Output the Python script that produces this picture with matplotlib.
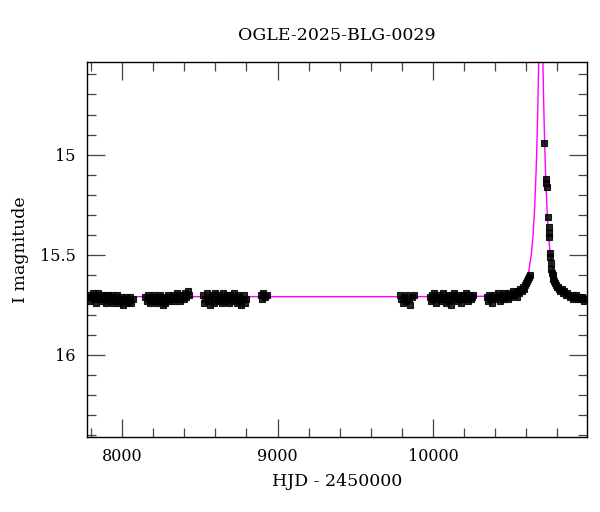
import matplotlib
matplotlib.use("Agg")
import matplotlib.pyplot as plt
from matplotlib.ticker import MultipleLocator

plt.rcParams['font.family'] = ['DejaVu Serif']

# photometry, one list pair per observing season (HJD - 2450000, I mag)
hjd_s1 = [7783, 7790, 7795, 7803, 7810, 7818, 7825, 7832, 7840, 7846, 7853, 7861, 7868,
          7875, 7882, 7890, 7897, 7905, 7912, 7919, 7926, 7934, 7941, 7948, 7956, 7963,
          7970, 7978, 7985, 7993, 8000, 8008, 8015, 8022, 8030, 8037, 8045, 8052, 8060, 8068]
mag_s1 = [15.71, 15.70, 15.73, 15.71, 15.69, 15.72, 15.70, 15.74, 15.71, 15.69, 15.72, 15.70, 15.73,
          15.71, 15.70, 15.72, 15.74, 15.71, 15.70, 15.73, 15.72, 15.70, 15.74, 15.71, 15.72, 15.73,
          15.70, 15.74, 15.72, 15.71, 15.73, 15.75, 15.72, 15.71, 15.74, 15.72, 15.73, 15.71, 15.74, 15.72]

hjd_s2 = [8150, 8158, 8166, 8174, 8182, 8190, 8198, 8206, 8214, 8222, 8230, 8238,
          8246, 8254, 8262, 8270, 8278, 8286, 8294, 8302, 8310, 8318, 8326, 8334,
          8342, 8350, 8358, 8366, 8374, 8382, 8390, 8398, 8406, 8414, 8422, 8430]
mag_s2 = [15.71, 15.73, 15.70, 15.72, 15.74, 15.71, 15.73, 15.70, 15.72, 15.74, 15.71, 15.73,
          15.70, 15.72, 15.75, 15.71, 15.74, 15.72, 15.70, 15.73, 15.71, 15.72, 15.70, 15.73,
          15.71, 15.69, 15.72, 15.70, 15.73, 15.71, 15.70, 15.72, 15.69, 15.71, 15.68, 15.70]

hjd_s3 = [8520, 8528, 8536, 8544, 8552, 8560, 8568, 8576, 8584, 8592, 8600, 8608,
          8616, 8624, 8632, 8640, 8648, 8656, 8664, 8672, 8680, 8688, 8696, 8704,
          8712, 8720, 8728, 8736, 8744, 8752, 8760, 8768, 8776, 8784, 8792, 8800]
mag_s3 = [15.70, 15.74, 15.72, 15.69, 15.73, 15.71, 15.75, 15.70, 15.72, 15.74, 15.69, 15.71,
          15.73, 15.70, 15.72, 15.74, 15.69, 15.71, 15.73, 15.70, 15.72, 15.74, 15.70, 15.71,
          15.73, 15.69, 15.72, 15.74, 15.70, 15.71, 15.73, 15.75, 15.72, 15.70, 15.74, 15.72]

hjd_s4 = [8893, 8900, 8908, 8918, 8930]
mag_s4 = [15.70, 15.72, 15.69, 15.71, 15.70]

hjd_s5 = [9785, 9795, 9805, 9815, 9825, 9835, 9845, 9855, 9865, 9878]
mag_s5 = [15.70, 15.72, 15.74, 15.71, 15.73, 15.70, 15.72, 15.75, 15.71, 15.70]

hjd_s6 = [9978, 9986, 9994, 10002, 10010, 10018, 10026, 10034, 10042, 10050, 10058, 10066,
          10074, 10082, 10090, 10098, 10106, 10114, 10122, 10130, 10138, 10146, 10154, 10162,
          10170, 10178, 10186, 10194, 10202, 10210, 10218, 10226, 10234, 10242, 10250, 10258]
mag_s6 = [15.71, 15.73, 15.70, 15.72, 15.69, 15.74, 15.71, 15.72, 15.70, 15.73, 15.71, 15.69,
          15.72, 15.74, 15.70, 15.71, 15.73, 15.75, 15.70, 15.72, 15.69, 15.71, 15.73, 15.70,
          15.72, 15.74, 15.71, 15.70, 15.72, 15.69, 15.71, 15.73, 15.70, 15.72, 15.71, 15.70]

hjd_s7 = [10346, 10354, 10362, 10370, 10378, 10386, 10394, 10402, 10410, 10418, 10426, 10434,
          10442, 10450, 10458, 10466, 10474, 10482, 10490, 10498, 10506, 10514, 10522, 10530,
          10538, 10546, 10554, 10562, 10570, 10578, 10586, 10594, 10600, 10606, 10612, 10618, 10624]
mag_s7 = [15.71, 15.73, 15.70, 15.72, 15.74, 15.71, 15.70, 15.72, 15.71, 15.69, 15.71, 15.73,
          15.70, 15.72, 15.69, 15.71, 15.70, 15.72, 15.69, 15.71, 15.70, 15.68, 15.70, 15.69,
          15.71, 15.68, 15.69, 15.67, 15.68, 15.66, 15.67, 15.65, 15.64, 15.63, 15.62, 15.61, 15.60]

hjd_s8 = [10716, 10727, 10729, 10731, 10742, 10744, 10746, 10748, 10754, 10756, 10758, 10762,
          10766, 10770, 10775, 10780, 10786, 10792, 10798, 10805, 10812, 10820, 10828, 10836,
          10845, 10854, 10863, 10872, 10882, 10892, 10902, 10912, 10922, 10932, 10942, 10952,
          10962, 10972, 10982]
mag_s8 = [14.94, 15.12, 15.14, 15.16, 15.31, 15.36, 15.39, 15.41, 15.49, 15.51, 15.54, 15.57,
          15.59, 15.60, 15.62, 15.63, 15.64, 15.65, 15.66, 15.66, 15.67, 15.68, 15.67, 15.69,
          15.68, 15.70, 15.69, 15.70, 15.71, 15.70, 15.72, 15.71, 15.70, 15.72, 15.71, 15.72,
          15.71, 15.73, 15.72]

# model light curve
model_hjd = [7700, 10000, 10394, 10464, 10524, 10564, 10594, 10614, 10634, 10644,
             10654, 10664, 10669, 10674, 10679, 10684, 10689, 10694, 10699, 10704,
             10709, 10714, 10719, 10724, 10734, 10744, 10754, 10774, 10794, 10824,
             10864, 10924, 10994, 11100]
model_mag = [15.71, 15.71, 15.708, 15.705, 15.698, 15.681, 15.647, 15.597, 15.494, 15.405,
             15.275, 15.08, 14.95, 14.79, 14.60, 14.38, 14.18, 14.09, 14.18, 14.38,
             14.60, 14.79, 14.95, 15.08, 15.275, 15.405, 15.494, 15.597, 15.647, 15.681,
             15.698, 15.705, 15.708, 15.71]

seasons = [(hjd_s1, mag_s1), (hjd_s2, mag_s2), (hjd_s3, mag_s3), (hjd_s4, mag_s4),
           (hjd_s5, mag_s5), (hjd_s6, mag_s6), (hjd_s7, mag_s7), (hjd_s8, mag_s8)]

fig = plt.figure(figsize=(6, 5.12), dpi=100)
ax = fig.add_axes([0.145, 0.147, 0.833, 0.731])

ax.plot(model_hjd, model_mag, color='#ff00ff', lw=1.0, zorder=2)
for t, m in seasons:
    ax.plot(t, m, ls='none', marker='s', ms=4.0, mfc='black', mec='black',
            mew=0.8, alpha=0.85, zorder=3)

ax.set_xlim(7774, 10990)
ax.set_ylim(16.41, 14.54)

ax.xaxis.set_major_locator(MultipleLocator(1000))
ax.xaxis.set_minor_locator(MultipleLocator(200))
ax.yaxis.set_major_locator(MultipleLocator(0.5))
ax.yaxis.set_minor_locator(MultipleLocator(0.1))
ax.tick_params(which='both', direction='in', top=True, right=True, labelsize=11.5)
ax.tick_params(which='major', length=13, width=0.9, color='#444444', pad=8)
ax.tick_params(which='minor', length=6.5, width=0.9, color='#444444')
ax.set_yticks([15, 15.5, 16])
ax.set_yticklabels(['15', '15.5', '16'])
for s in ax.spines.values():
    s.set_linewidth(1.0)

ax.set_title('OGLE-2025-BLG-0029', fontsize=12.5, pad=16)
ax.set_xlabel('HJD - 2450000', fontsize=12.5, labelpad=6)
ax.set_ylabel('I magnitude', fontsize=12.5, labelpad=8)

fig.savefig('out.png', dpi=100)
